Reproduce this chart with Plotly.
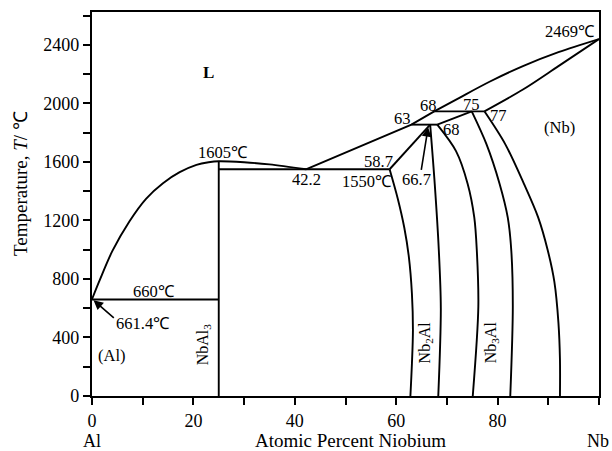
import plotly.graph_objects as go

# ---- data (atomic % Nb, temperature in deg C) ----
liq_left_x = [0, 1.5, 4, 7.4, 10.7, 14, 17.3, 20.6, 23, 25, 30, 35, 42.2]
liq_left_T = [661.4, 790, 990, 1195, 1350, 1455, 1530, 1580, 1598, 1605, 1598, 1583, 1550]

liq_mid_x = [42.2, 63, 67.5]
liq_mid_T = [1550, 1855, 1946]

liq_up_x = [67.5, 72, 78.5, 85, 92, 100]
liq_up_T = [1946, 2030, 2150, 2255, 2350, 2440]

sol_nb_x = [77.4, 85, 92, 100]
sol_nb_T = [1946, 2095, 2255, 2440]

nbal3_x = [25, 25]
nbal3_T = [0, 1605]

eut660_x = [0, 25]
eut660_T = [660, 660]

eut1550_x = [25, 58.7]
eut1550_T = [1550, 1550]

per1855_x = [63, 68.1]
per1855_T = [1855, 1855]

per1946_x = [67.5, 77.4]
per1946_T = [1946, 1946]

nb2al_sol_x = [58.7, 66.7]
nb2al_sol_T = [1550, 1855]

nb2al_left_x = [58.7, 60.3, 61.6, 62.5, 63.1, 63.3, 63.1, 62.8]
nb2al_left_T = [1550, 1350, 1150, 950, 700, 450, 220, 0]

nb2al_right_x = [66.7, 67.6, 68.4, 68.8, 68.3]
nb2al_right_T = [1855, 1450, 1000, 600, 0]

nb3al_up_x = [68.1, 74.9]
nb3al_up_T = [1855, 1946]

nb3al_left_x = [68.1, 71.8, 74.1, 75.4, 75.9, 76.2, 75.1]
nb3al_left_T = [1855, 1674, 1450, 1221, 995, 610, 0]

nb3al_right_x = [74.9, 77.8, 80.4, 82.0, 82.7, 83.0, 82.5]
nb3al_right_T = [1946, 1722, 1450, 1221, 995, 610, 0]

nb_solvus_x = [77.4, 81.5, 85.2, 88.0, 89.9, 91.2, 92.0, 92.3, 92.3]
nb_solvus_T = [1946, 1722, 1450, 1221, 995, 780, 500, 250, 0]

x_ticks = [0, 20, 40, 60, 80, 100]
y_ticks = [0, 400, 800, 1200, 1600, 2000, 2400]

FONT = "Liberation Serif, Times New Roman, serif"
DEG = "\u2103"

fig = go.Figure()

curves = [
    (liq_left_x, liq_left_T, "spline"),
    (liq_mid_x, liq_mid_T, "linear"),
    (liq_up_x, liq_up_T, "spline"),
    (sol_nb_x, sol_nb_T, "spline"),
    (nbal3_x, nbal3_T, "linear"),
    (eut660_x, eut660_T, "linear"),
    (eut1550_x, eut1550_T, "linear"),
    (per1855_x, per1855_T, "linear"),
    (per1946_x, per1946_T, "linear"),
    (nb2al_sol_x, nb2al_sol_T, "linear"),
    (nb2al_left_x, nb2al_left_T, "spline"),
    (nb2al_right_x, nb2al_right_T, "spline"),
    (nb3al_up_x, nb3al_up_T, "linear"),
    (nb3al_left_x, nb3al_left_T, "spline"),
    (nb3al_right_x, nb3al_right_T, "spline"),
    (nb_solvus_x, nb_solvus_T, "spline"),
]
for xs, ts, shape in curves:
    line = dict(color="black", width=1.9, shape=shape)
    if shape == "spline":
        line["smoothing"] = 0.9
    fig.add_trace(go.Scatter(x=xs, y=ts, mode="lines", line=line,
                             showlegend=False, hoverinfo="skip"))

def lab(x, y, text, size=16.5, angle=0, xanchor="center"):
    return dict(x=x, y=y, xref="x", yref="y", text=text, showarrow=False,
                font=dict(family=FONT, size=size, color="black"),
                textangle=angle, xanchor=xanchor, yanchor="middle")

annotations = [
    lab(23, 2211, "<b>L</b>", 17),
    lab(25.8, 1662, "1605" + DEG),
    lab(42.3, 1477, "42.2"),
    lab(56.5, 1600, "58.7"),
    lab(54.3, 1468, "1550" + DEG),
    lab(61.3, 1897, "63"),
    lab(66.4, 1988, "68"),
    lab(74.8, 1990, "75"),
    lab(80.2, 1916, "77"),
    lab(70.9, 1820, "68"),
    lab(64.0, 1483, "66.7"),
    lab(99.6, 2492, "2469" + DEG, xanchor="right"),
    lab(92.2, 1834, "(Nb)"),
    lab(12.3, 716, "660" + DEG),
    lab(10.1, 496, "661.4" + DEG),
    lab(3.9, 278, "(Al)"),
    lab(22.0, 350, "NbAl<sub>3</sub>", 16, -90),
    lab(65.7, 367, "Nb<sub>2</sub>Al", 16, -90),
    lab(78.7, 367, "Nb<sub>3</sub>Al", 16, -90),
    # arrows
    dict(x=0.3, y=655, ax=4.6, ay=525, xref="x", yref="y", axref="x", ayref="y",
         text="", showarrow=True, arrowhead=2, arrowsize=1.2, arrowwidth=1.6,
         arrowcolor="black"),
    dict(x=66.3, y=1838, ax=64.9, ay=1535, xref="x", yref="y", axref="x", ayref="y",
         text="", showarrow=True, arrowhead=2, arrowsize=1.2, arrowwidth=1.6,
         arrowcolor="black"),
    # axis titles
    dict(x=0.509, y=-0.116, xref="paper", yref="paper", text="Atomic Percent Niobium",
         showarrow=False, font=dict(family=FONT, size=19, color="black"),
         xanchor="center", yanchor="middle"),
    dict(x=0.0, y=-0.116, xref="paper", yref="paper", text="Al",
         showarrow=False, font=dict(family=FONT, size=18, color="black"),
         xanchor="center", yanchor="middle"),
    dict(x=0.998, y=-0.116, xref="paper", yref="paper", text="Nb",
         showarrow=False, font=dict(family=FONT, size=18, color="black"),
         xanchor="center", yanchor="middle"),
    dict(x=-0.142, y=0.552, xref="paper", yref="paper",
         text="Temperature, <i>T</i>/ " + DEG, textangle=-90,
         showarrow=False, font=dict(family=FONT, size=19, color="black"),
         xanchor="center", yanchor="middle"),
]

axis_common = dict(showgrid=False, zeroline=False, showline=True, mirror=True,
                   linecolor="black", linewidth=2.2, ticks="outside", ticklen=7,
                   tickwidth=1.6, tickcolor="black",
                   tickfont=dict(family=FONT, size=18, color="black"))

fig.update_layout(
    width=612, height=451,
    margin=dict(l=92, r=13, t=10, b=55),
    paper_bgcolor="white", plot_bgcolor="white",
    xaxis=dict(range=[0, 100], tickvals=x_ticks,
               minor=dict(ticks="outside", ticklen=7, tickwidth=1.6,
                          tickcolor="black", dtick=10, tick0=0),
               **axis_common),
    yaxis=dict(range=[0, 2625], tickvals=y_ticks,
               minor=dict(ticks="outside", ticklen=7, tickwidth=1.6,
                          tickcolor="black", dtick=200, tick0=0),
               **axis_common),
    annotations=annotations,
)

fig.write_html("out.html")
